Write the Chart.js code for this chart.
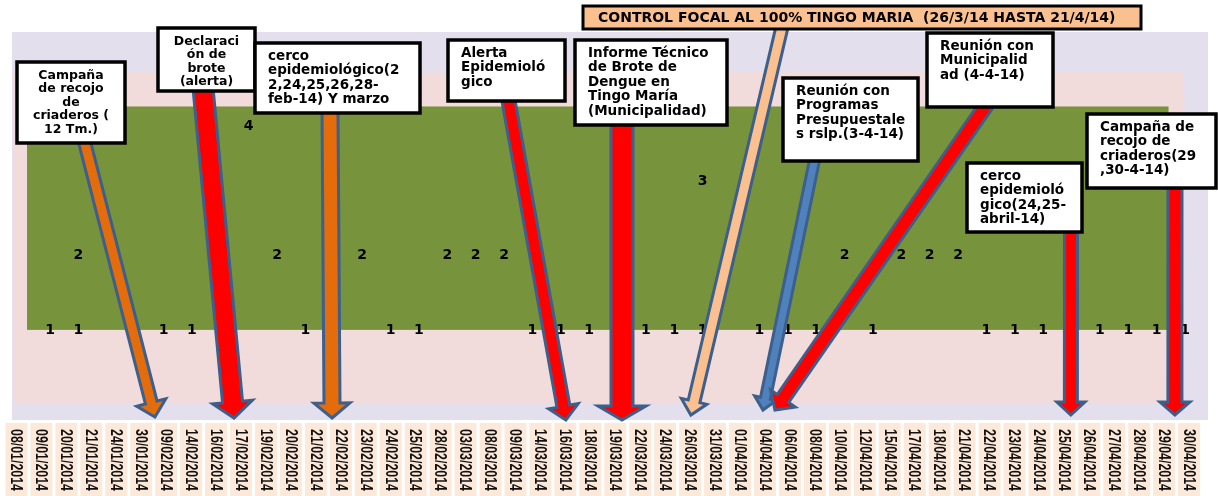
<!DOCTYPE html>
<html lang="es">
<head>
<meta charset="utf-8">
<title>Brote de dengue - Tingo María 2014</title>
<script src="https://cdn.jsdelivr.net/npm/chart.js@4.4.1/dist/chart.umd.min.js"></script>
<style>
  html, body { margin: 0; padding: 0; background: #fff; }
  #wrap { width: 1218px; height: 496px; position: relative; }
</style>
</head>
<body>
<div id="wrap"><canvas id="brote"></canvas></div>
<script>
// Fechas del eje (celdas bajo el gráfico)
const fechas = [
  '08/01/2014', '09/01/2014', '20/01/2014', '21/01/2014', '24/01/2014', '30/01/2014',
  '09/02/2014', '14/02/2014', '16/02/2014', '17/02/2014', '19/02/2014', '20/02/2014',
  '21/02/2014', '22/02/2014', '23/02/2014', '24/02/2014', '25/02/2014', '28/02/2014',
  '03/03/2014', '08/03/2014', '09/03/2014', '14/03/2014', '16/03/2014', '18/03/2014',
  '19/03/2014', '22/03/2014', '24/03/2014', '26/03/2014', '31/03/2014', '01/04/2014',
  '04/04/2014', '06/04/2014', '08/04/2014', '10/04/2014', '12/04/2014', '15/04/2014',
  '17/04/2014', '18/04/2014', '21/04/2014', '22/04/2014', '23/04/2014', '24/04/2014',
  '25/04/2014', '26/04/2014', '27/04/2014', '28/04/2014', '29/04/2014', '30/04/2014'
];

// Casos (etiquetas de valor), una posición por columna del gráfico original
const serieUno = [
  1, 1, null, null, 1, 1, null, null, null, 1, null, null, 1, 1, null, null, null,
  1, 1, 1, null, 1, 1, 1, null, 1, 1, 1, null, 1, null, null, null, 1, 1, 1, null,
  1, 1, 1, 1
];
const serieDos = [
  null, 2, null, null, null, null, null, 4, 2, null, null, 2, null, null, 2, 2, 2,
  null, null, null, null, null, null, 3, null, null, null, null, 2, null, 2, 2, 2,
  null, null, null, null, null, null, null, null
];

// Notas con flecha hacia la fecha (hasta = [índice de fecha, px sobre el eje])
const notas = [
  { caja: [17, 62, 125, 143], centro: true, texto: ['Campaña', 'de recojo', 'de', 'criaderos (', '12 Tm.)'],
    desde: [84, 140], hasta: [5.55, 3], relleno: '#E46C0A', w: 12, hw: 30, hl: 15 },
  { caja: [158, 28, 255, 91], centro: true, texto: ['Declaraci', 'ón de', 'brote', '(alerta)'],
    desde: [203, 88], hasta: [8.72, 2], relleno: '#FF0000', w: 20, hw: 40, hl: 16 },
  { caja: [255, 43, 420, 113], texto: ['cerco', 'epidemiológico(2', '2,24,25,26,28-', 'feb-14) Y marzo'],
    desde: [330, 110], hasta: [12.65, 2], relleno: '#E46C0A', w: 16, hw: 36, hl: 15 },
  { caja: [448, 40, 565, 101], texto: ['Alerta', 'Epidemioló', 'gico'],
    desde: [508, 98], hasta: [22.02, 0], relleno: '#FF0000', w: 13, hw: 30, hl: 14 },
  { caja: [575, 40, 727, 125], texto: ['Informe Técnico', 'de Brote de', 'Dengue en', 'Tingo María', '(Municipalidad)'],
    desde: [622, 122], hasta: [24.27, 0], relleno: '#FF0000', w: 22, hw: 48, hl: 14 },
  { caja: [583, 6, 1141, 29], titulo: true, texto: ['CONTROL FOCAL AL 100% TINGO MARIA  (26/3/14 HASTA 21/4/14)'],
    desde: [782, 27], hasta: [27.03, 5], relleno: '#FAC090', w: 12, hw: 26, hl: 14 },
  { caja: [783, 78, 918, 161], texto: ['Reunión con', 'Programas', 'Presupuestale', 's rslp.(3-4-14)'],
    desde: [815, 158], hasta: [29.92, 10], relleno: '#4F81BD', w: 10, hw: 22, hl: 12 },
  { caja: [927, 33, 1053, 107], texto: ['Reunión con', 'Municipalid', 'ad (4-4-14)'],
    desde: [987, 104], hasta: [30.4, 10], relleno: '#FF0000', w: 14, hw: 30, hl: 14 },
  { caja: [967, 163, 1082, 232], texto: ['cerco', 'epidemioló', 'gico(24,25-', 'abril-14)'],
    desde: [1071, 229], hasta: [42.26, 5], relleno: '#FF0000', w: 13, hw: 28, hl: 13 },
  { caja: [1087, 114, 1216, 188], texto: ['Campaña de', 'recojo de', 'criaderos(29', ',30-4-14)'],
    desde: [1175, 185], hasta: [46.43, 5], relleno: '#FF0000', w: 14, hw: 30, hl: 13 }
];

const puntos = serie => serie
  .map((v, k) => (v == null ? null : { x: k, y: v }))
  .filter(Boolean);

function flecha(ctx, x1, y1, x2, y2, n) {
  const len = Math.hypot(x2 - x1, y2 - y1);
  const ux = (x2 - x1) / len, uy = (y2 - y1) / len;
  const nx = -uy, ny = ux;
  const bx = x2 - ux * n.hl, by = y2 - uy * n.hl;
  const w = n.w / 2, h = n.hw / 2;
  ctx.beginPath();
  ctx.moveTo(x1 + nx * w, y1 + ny * w);
  ctx.lineTo(bx + nx * w, by + ny * w);
  ctx.lineTo(bx + nx * h, by + ny * h);
  ctx.lineTo(x2, y2);
  ctx.lineTo(bx - nx * h, by - ny * h);
  ctx.lineTo(bx - nx * w, by - ny * w);
  ctx.lineTo(x1 - nx * w, y1 - ny * w);
  ctx.closePath();
  ctx.fillStyle = n.relleno;
  ctx.fill();
  ctx.lineWidth = 3;
  ctx.lineJoin = 'miter';
  ctx.strokeStyle = '#3D5F8C';
  ctx.stroke();
}

// Fondos: área exterior lila, rosa y verde
const fondo = {
  id: 'fondo',
  beforeDatasetsDraw(chart) {
    const { ctx } = chart;
    const x2 = chart.scales.x2, y = chart.scales.y;
    const bandas = [
      { x: [-1.34, 40.81], y: [5, -0.21], c: '#E4DFEC' },
      { x: [-1.3, 39.95], y: [4.46, 0.02], c: '#F2DCDB' },
      { x: [-0.81, 39.42], y: [4, 1], c: '#77933C' }
    ];
    ctx.save();
    bandas.forEach(b => {
      const l = x2.getPixelForValue(b.x[0]), r = x2.getPixelForValue(b.x[1]);
      const t = y.getPixelForValue(b.y[0]), btm = y.getPixelForValue(b.y[1]);
      ctx.fillStyle = b.c;
      ctx.fillRect(l, t, r - l, btm - t);
    });
    ctx.restore();
  }
};

// Etiquetas de valor de cada punto
const etiquetas = {
  id: 'etiquetas',
  afterDatasetsDraw(chart) {
    const { ctx } = chart;
    const techo = chart.scales.y.getPixelForValue(4) + 20;
    ctx.save();
    ctx.font = 'bold 14px "DejaVu Sans"';
    ctx.fillStyle = '#000';
    ctx.textAlign = 'center';
    ctx.textBaseline = 'middle';
    chart.data.datasets.forEach((ds, i) => {
      chart.getDatasetMeta(i).data.forEach((pt, j) => {
        ctx.fillText(String(ds.data[j].y), pt.x, Math.max(pt.y, techo));
      });
    });
    ctx.restore();
  }
};

// Celdas de fechas, flechas y cuadros de texto
const anotaciones = {
  id: 'anotaciones',
  afterDraw(chart) {
    const { ctx, chartArea } = chart;
    const x = chart.scales.x;
    const paso = x.getPixelForValue(1) - x.getPixelForValue(0);

    ctx.save();
    fechas.forEach((f, i) => {
      const cx = x.getPixelForValue(i);
      ctx.fillStyle = '#FDE9D9';
      ctx.fillRect(cx - (paso - 3) / 2, 423, paso - 3, 73);
      ctx.save();
      ctx.translate(cx, 460);
      ctx.rotate(Math.PI / 2);
      ctx.font = 'bold 17px "Liberation Sans"';
      const ancho = ctx.measureText(f).width;
      ctx.scale(62 / ancho, 1);
      ctx.fillStyle = '#111';
      ctx.textAlign = 'center';
      ctx.textBaseline = 'middle';
      ctx.fillText(f, 0, 0.5);
      ctx.restore();
    });

    notas.forEach(n => {
      const tx = x.getPixelForValue(n.hasta[0]);
      const ty = chartArea.bottom - n.hasta[1];
      flecha(ctx, n.desde[0], n.desde[1], tx, ty, n);
    });

    notas.forEach(n => {
      const [l, t, r, b] = n.caja;
      ctx.fillStyle = n.titulo ? '#FAC090' : '#fff';
      ctx.fillRect(l, t, r - l, b - t);
      ctx.lineWidth = n.titulo ? 3 : 3.5;
      ctx.strokeStyle = '#000';
      ctx.strokeRect(l, t, r - l, b - t);
      ctx.fillStyle = '#000';
      ctx.textBaseline = 'middle';
      if (n.titulo) {
        ctx.font = 'bold 14px "DejaVu Sans"';
        ctx.textAlign = 'left';
        ctx.fillText(n.texto[0], l + 15, (t + b) / 2 + 0.5);
      } else if (n.centro) {
        ctx.font = 'bold 12.5px "DejaVu Sans"';
        ctx.textAlign = 'center';
        n.texto.forEach((s, k) => ctx.fillText(s, (l + r) / 2, t + 13.5 + k * 13.5));
      } else {
        ctx.font = 'bold 13.5px "DejaVu Sans"';
        ctx.textAlign = 'left';
        n.texto.forEach((s, k) => ctx.fillText(s, l + 13, t + 13 + k * 14.5));
      }
    });
    ctx.restore();
  }
};

new Chart(document.getElementById('brote'), {
  type: 'scatter',
  data: {
    labels: fechas,
    datasets: [
      { label: 'Casos', data: puntos(serieUno), xAxisID: 'x2', yAxisID: 'y', pointRadius: 0, showLine: false },
      { label: 'Casos (2)', data: puntos(serieDos), xAxisID: 'x2', yAxisID: 'y', pointRadius: 0, showLine: false }
    ]
  },
  options: {
    responsive: true,
    maintainAspectRatio: false,
    animation: false,
    events: [],
    layout: { padding: { left: 4, right: 16.4, top: 32, bottom: 76 } },
    plugins: { legend: { display: false }, tooltip: { enabled: false } },
    scales: {
      x: { type: 'category', labels: fechas, offset: true, display: false },
      x2: { type: 'linear', min: -1.621, max: 40.585, display: false },
      y: { type: 'linear', min: -0.21, max: 5, display: false }
    }
  },
  plugins: [fondo, etiquetas, anotaciones]
});
</script>
</body>
</html>
